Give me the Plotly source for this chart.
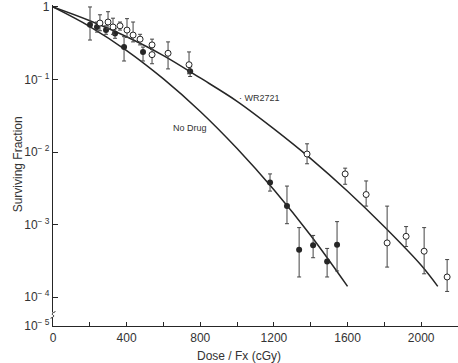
import plotly.graph_objects as go

# ---- data ----
# No Drug (closed circles)
nd_dose = [201, 239, 288, 337, 386, 489, 745, 1179, 1271, 1337, 1413, 1489, 1543]
nd_sf   = [0.57, 0.53, 0.48, 0.43, 0.28, 0.24, 0.13, 3.8e-3, 1.8e-3, 4.5e-4, 5.2e-4, 3.1e-4, 5.3e-4]
nd_hi   = [1.0, 0.62, 0.55, 0.50, 0.39, 0.28, 0.15, 5.0e-3, 3.4e-3, 9.1e-4, 7.1e-4, 4.7e-4, 1.1e-3]
nd_lo   = [0.35, 0.45, 0.42, 0.37, 0.18, 0.18, 0.11, 2.9e-3, 1.03e-3, 1.9e-4, 3.5e-4, 1.9e-4, 2.3e-4]

# WR2721 (open circles)
wr_dose = [255, 299, 326, 364, 402, 435, 473, 538, 538, 625, 739, 1380, 1587, 1701, 1815, 1918, 2016, 2141]
wr_sf   = [0.60, 0.62, 0.53, 0.55, 0.48, 0.41, 0.36, 0.30, 0.22, 0.23, 0.16,
           9.4e-3, 5.0e-3, 2.6e-3, 5.6e-4, 6.9e-4, 4.3e-4, 1.9e-4]
wr_hi   = [0.78, 0.86, 0.70, 0.62, 0.69, 0.62, 0.42, 0.36, 0.26, 0.33, 0.24,
           1.3e-2, 6.0e-3, 4.0e-3, 1.8e-3, 9.4e-4, 9.1e-4, 3.3e-4]
wr_lo   = [0.47, 0.50, 0.42, 0.48, 0.38, 0.33, 0.30, 0.26, 0.165, 0.14, 0.12,
           6.9e-3, 3.6e-3, 1.8e-3, 2.6e-4, 5.0e-4, 2.1e-4, 1.2e-4]

# fitted curves
nd_curve_dose = [0, 200, 400, 600, 800, 1000, 1200, 1400, 1600]
nd_curve_sf   = [1.0, 0.537, 0.251, 0.102, 0.0363, 0.0112, 3.02e-3, 7.08e-4, 1.41e-4]
wr_curve_dose = [0, 200, 400, 600, 800, 1000, 1200, 1400, 1600, 1800, 2000, 2090]
wr_curve_sf   = [1.0, 0.646, 0.389, 0.214, 0.105, 0.0501, 0.0209, 8.13e-3, 2.88e-3, 9.33e-4, 2.75e-4, 1.41e-4]

x_ticks = [0, 400, 800, 1200, 1600, 2000]
y_tickvals = [1, 1e-1, 1e-2, 1e-3, 1e-4, 10 ** -4.397]
y_ticktext = ["1", "10<sup>\u2212 1</sup>", "10<sup>\u2212 2</sup>", "10<sup>\u2212 3</sup>",
              "10<sup>\u2212 4</sup>", "10<sup>\u2212 5</sup>"]

ink = "#262626"
font = "Liberation Sans, Arial, sans-serif"

fig = go.Figure()

fig.add_trace(go.Scatter(x=nd_curve_dose, y=nd_curve_sf, mode="lines",
                         line=dict(color=ink, width=1.5, shape="spline"),
                         hoverinfo="skip", showlegend=False))
fig.add_trace(go.Scatter(x=wr_curve_dose, y=wr_curve_sf, mode="lines",
                         line=dict(color=ink, width=1.5, shape="spline"),
                         hoverinfo="skip", showlegend=False))

fig.add_trace(go.Scatter(
    x=nd_dose, y=nd_sf, mode="markers",
    marker=dict(size=6, color=ink, symbol="circle"),
    error_y=dict(type="data", symmetric=False,
                 array=[h - v for h, v in zip(nd_hi, nd_sf)],
                 arrayminus=[v - l for v, l in zip(nd_sf, nd_lo)],
                 color="#444", thickness=1, width=2),
    showlegend=False))

fig.add_trace(go.Scatter(
    x=wr_dose, y=wr_sf, mode="markers",
    marker=dict(size=6, color="white", symbol="circle", line=dict(color=ink, width=1)),
    error_y=dict(type="data", symmetric=False,
                 array=[h - v for h, v in zip(wr_hi, wr_sf)],
                 arrayminus=[v - l for v, l in zip(wr_sf, wr_lo)],
                 color="#444", thickness=1, width=2),
    showlegend=False))

fig.update_layout(
    width=458, height=363,
    margin=dict(l=53, r=0, t=3, b=37),
    paper_bgcolor="white", plot_bgcolor="white",
    font=dict(family=font, size=12, color="#333"),
    xaxis=dict(range=[0, 2200], tickvals=x_ticks, ticks="inside", ticklen=4,
               tickcolor=ink, showline=True, linecolor=ink, linewidth=1.2,
               showgrid=False, zeroline=False, ticklabeloverflow="allow",
               minor=dict(dtick=200, ticks="inside", ticklen=4, tickcolor=ink, showgrid=False),
               tickfont=dict(size=12, color="#333")),
    yaxis=dict(type="log", range=[-4.397, 0.027], tickvals=y_tickvals, ticktext=y_ticktext,
               ticks="inside", ticklen=5, tickcolor=ink, showline=True, linecolor=ink,
               linewidth=1.2, showgrid=False, zeroline=False, ticklabeloverflow="allow",
               tickfont=dict(size=12, color="#333")),
    annotations=[
        dict(text="Dose / Fx (cGy)", xref="paper", yref="paper", x=0.459, y=-0.095,
             showarrow=False, yanchor="middle", font=dict(size=12, color="#333")),
        dict(text="Surviving Fraction", xref="paper", yref="paper", x=-0.11, y=0.505,
             showarrow=False, textangle=-90, font=dict(size=12, color="#333")),
        dict(text="No Drug", xref="paper", yref="paper", x=0.338, y=0.616,
             showarrow=False, font=dict(size=9, color="#333")),
        dict(text="\u00b7 WR2721", xref="paper", yref="paper", x=0.511, y=0.731,
             showarrow=False, font=dict(size=9, color="#333")),
    ],
    shapes=[
        dict(type="rect", xref="paper", yref="paper", x0=-0.006, x1=0.006, y0=0.027, y1=0.042,
             fillcolor="white", line=dict(width=0), layer="above"),
        dict(type="path", xref="paper", yref="paper",
             path="M -0.006,0.024 Q 0.006,0.030 0,0.034 Q -0.006,0.038 0.006,0.045",
             line=dict(color=ink, width=1), layer="above"),
    ],
)

fig.write_html("out.html")
